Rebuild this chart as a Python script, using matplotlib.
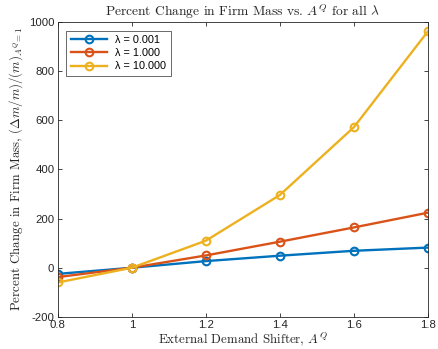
import matplotlib
matplotlib.use("Agg")
import matplotlib.pyplot as plt

x = [0.8, 1.0, 1.2, 1.4, 1.6, 1.8]
lam_001 = [-25, 0, 27, 49, 69, 82]
lam_1 = [-38, 0, 50, 106, 164, 224]
lam_10 = [-60, 0, 110, 296, 572, 962]
labels = ["λ = 0.001", "λ = 1.000", "λ = 10.000"]
colors = ["#0072BD", "#D95319", "#EDB120"]
xticks = [0.8, 1.0, 1.2, 1.4, 1.6, 1.8]
xticklabels = ["0.8", "1", "1.2", "1.4", "1.6", "1.8"]
yticks = [-200, 0, 200, 400, 600, 800, 1000]

plt.rcParams['mathtext.fontset'] = 'cm'
plt.rcParams['font.family'] = ['Liberation Sans', 'DejaVu Sans']
plt.rcParams['axes.unicode_minus'] = False

fig = plt.figure(figsize=(4.38, 3.49), dpi=100)
ax = fig.add_axes([0.132, 0.092, 0.845, 0.845])

for ys, lab, c in zip([lam_001, lam_1, lam_10], labels, colors):
    ax.plot(x, ys, '-o', color=c, lw=1.7, ms=5.5, mfc='none', mew=1.5, label=lab)

ax.set_xlim(0.8, 1.8)
ax.set_ylim(-200, 1000)
ax.set_xticks(xticks)
ax.set_xticklabels(xticklabels)
ax.set_yticks(yticks)
ax.tick_params(direction='in', top=True, right=True, labelsize=8.2, length=3,
               colors='#262626', width=0.6, pad=2.5)
for s in ax.spines.values():
    s.set_linewidth(0.6)
    s.set_color('#262626')

ax.set_title(r"Percent Change in Firm Mass vs. $A^Q$ for all $\lambda$",
             family=['cmr10'], fontsize=9.7, pad=4, color='#262626')
ax.set_xlabel(r"External Demand Shifter, $A^Q$", family=['cmr10'], fontsize=9.3,
              labelpad=0.5, color='#262626')
ax.set_ylabel(r"Percent Change in Firm Mass, $(\Delta m/m)/(m)_{A^Q\!=1}$",
              family=['cmr10'], fontsize=9.3, labelpad=3, color='#262626')

leg = ax.legend(loc='upper left', fontsize=7.8, frameon=True, fancybox=False,
                edgecolor='#262626', handlelength=3.3, borderaxespad=0.8,
                labelspacing=0.3, borderpad=0.4)
leg.get_frame().set_linewidth(0.6)

fig.savefig("out.png", dpi=100)
